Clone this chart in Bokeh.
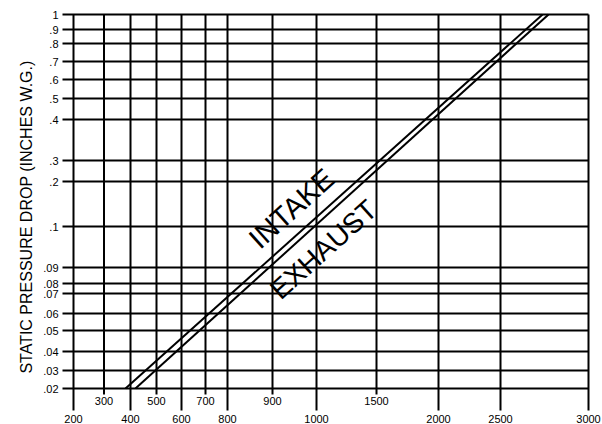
import numpy as np
from bokeh.plotting import figure
from bokeh.models import Range1d, ColumnDataSource
from bokeh.core.properties import value
from bokeh.embed import file_html
from bokeh.resources import INLINE

# ---------------- data ----------------
CFM_TICKS = [200, 300, 400, 500, 600, 700, 800, 900, 1000, 1500, 2000, 2500, 3000]
CFM_UPPER_ROW = [300, 500, 700, 900, 1500]
PRESSURE_TICKS = [1.0, 0.9, 0.8, 0.7, 0.6, 0.5, 0.4, 0.3, 0.2, 0.1,
                  0.09, 0.08, 0.07, 0.06, 0.05, 0.04, 0.03, 0.02]
PRESSURE_LABELS = ["1", ".9", ".8", ".7", ".6", ".5", ".4", ".3", ".2", ".1",
                   ".09", ".08", ".07", ".06", ".05", ".04", ".03", ".02"]
INTAKE_CFM = [381, 2739]
INTAKE_DP = [0.02, 1.0]
EXHAUST_CFM = [419, 2773]
EXHAUST_DP = [0.02, 1.0]
Y_TITLE = "STATIC PRESSURE DROP (INCHES W.G.)"

# ------------- axis geometry (hand-drawn, non-uniform chart scale) -------------
X_AXIS_POS = [73, 103.5, 130, 156, 181, 205, 227, 272, 316, 376, 438, 500, 588]
Y_AXIS_POS = [14, 29, 43, 61, 79, 98, 119, 160, 181, 226,
              267, 283, 293, 313, 330, 351, 370, 388]


def xpos(v):
    return np.interp(v, CFM_TICKS, X_AXIS_POS)


def ypos(v):
    return np.interp(v, PRESSURE_TICKS[::-1], Y_AXIS_POS[::-1])


FONT = value("Liberation Sans")

p = figure(width=602, height=424, x_range=Range1d(0, 602), y_range=Range1d(424, 0),
           x_axis_type=None, y_axis_type=None, toolbar_location=None,
           output_backend="svg", min_border=0, outline_line_color=None,
           background_fill_color="white", border_fill_color="white")
p.grid.visible = False

x_left = xpos(CFM_TICKS[0])
x_right = xpos(CFM_TICKS[-1])
y_top = ypos(PRESSURE_TICKS[0])
y_bot = ypos(PRESSURE_TICKS[-1])

# horizontal grid lines (pressure)
hy = [ypos(v) for v in PRESSURE_TICKS]
p.segment(x0=[x_left - 11] * len(hy), x1=[x_right] * len(hy), y0=hy, y1=hy,
          line_color="black", line_width=2)

# vertical grid lines (cfm)
vx = [xpos(v) for v in CFM_TICKS]
vy1 = [y_bot + (6 if v in CFM_UPPER_ROW else 22) for v in CFM_TICKS]
p.segment(x0=vx, x1=vx, y0=[y_top] * len(vx), y1=vy1, line_color="black", line_width=2)

# curves
p.line(xpos(INTAKE_CFM), ypos(INTAKE_DP), line_color="black", line_width=2)
p.line(xpos(EXHAUST_CFM), ypos(EXHAUST_DP), line_color="black", line_width=2)

# x labels
lab_x = ColumnDataSource(dict(
    x=vx,
    y=[y_bot + (12 if v in CFM_UPPER_ROW else 30) for v in CFM_TICKS],
    t=[str(v) for v in CFM_TICKS]))
p.text(x="x", y="y", text="t", source=lab_x, text_font=FONT, text_font_size="11px",
       text_align="center", text_baseline="middle", text_color="black")

# y labels
lab_y = ColumnDataSource(dict(x=[x_left - 15] * len(hy), y=hy, t=PRESSURE_LABELS))
p.text(x="x", y="y", text="t", source=lab_y, text_font=FONT, text_font_size="11px",
       text_align="right", text_baseline="middle", text_color="black")

# y title
p.text(x=[26], y=[216.5], text=[Y_TITLE], angle=90, angle_units="deg",
       text_font=FONT, text_font_size="16px", text_align="center",
       text_baseline="alphabetic", text_color="black")

# curve labels
p.text(x=[291], y=[208], text=["INTAKE"], angle=42, angle_units="deg",
       text_font=FONT, text_font_size="29px", text_align="center",
       text_baseline="middle", text_color="black")
p.text(x=[323], y=[249], text=["EXHAUST"], angle=42, angle_units="deg",
       text_font=FONT, text_font_size="28px", text_align="center",
       text_baseline="middle", text_color="black")

open("out.html", "w").write(file_html(p, INLINE))
